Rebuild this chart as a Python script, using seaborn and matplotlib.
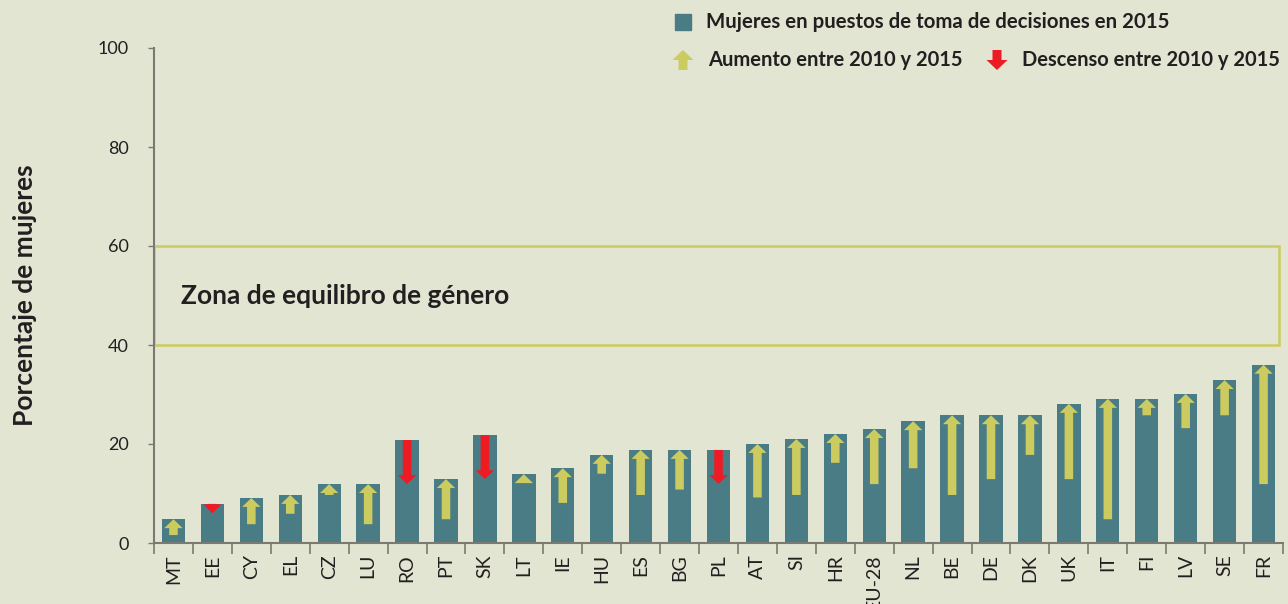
import matplotlib
matplotlib.use("Agg")
import matplotlib.pyplot as plt
import matplotlib.patches as mpatches
import seaborn as sns
import numpy as np
import pandas as pd

# ---- data ----
countries = ["MT", "EE", "CY", "EL", "CZ", "LU", "RO", "PT", "SK", "LT", "IE", "HU", "ES", "BG",
             "PL", "AT", "SI", "HR", "EU-28", "NL", "BE", "DE", "DK", "UK", "IT", "FI", "LV", "SE", "FR"]
women_2015 = [4.8, 7.9, 9.1, 9.7, 11.9, 11.9, 20.8, 12.9, 21.8, 13.9, 15.1, 17.8, 18.8, 18.8,
              18.8, 20.0, 21.0, 22.0, 23.0, 24.6, 25.8, 25.8, 25.8, 28.1, 29.1, 29.1, 30.1, 32.9, 36.0]
# other end of each change arrow
arrow_end = [1.6, 6.0, 3.8, 5.9, 9.7, 3.8, 11.9, 4.8, 12.9, 12.1, 8.1, 14.0, 9.7, 10.8,
             11.9, 9.2, 9.7, 16.2, 11.9, 15.1, 9.7, 12.9, 17.8, 12.9, 4.8, 25.8, 23.2, 25.8, 11.9]
change = ["up", "down", "up", "up", "up", "up", "down", "up", "down", "up", "up", "up", "up", "up",
          "down", "up", "up", "up", "up", "up", "up", "up", "up", "up", "up", "up", "up", "up", "up"]

y_ticks = [0, 20, 40, 60, 80, 100]
zone = (40, 60)

bar_label = "Mujeres en puestos de toma de decisiones en 2015"
up_label = "Aumento entre 2010 y 2015"
down_label = "Descenso entre 2010 y 2015"
zone_label = "Zona de equilibro de género"
y_label = "Porcentaje de mujeres"

# ---- style ----
BG = "#e1e5d2"
TEAL = "#4a7c85"
YEL = "#cccb60"
RED = "#ed1c24"
AX = "#7a7a72"
TXT = "#231f20"

sns.set_theme(style="white")
plt.rcParams["font.family"] = ["Lato", "DejaVu Sans"]

W, H = 1288, 604
fig = plt.figure(figsize=(12.88, 6.04), dpi=100, facecolor=BG)
ax = fig.add_axes([154/W, 1-543/H, (1283-154)/W, (543-48)/H])
ax.set_facecolor(BG)

n = len(countries)
df = pd.DataFrame({"country": countries, "value": women_2015})
sns.barplot(data=df, x="country", y="value", color=TEAL, saturation=1, width=0.6,
            linewidth=0, edgecolor=TEAL, ax=ax)

for i, (v, e, c) in enumerate(zip(women_2015, arrow_end, change)):
    if c == "up":
        ax.arrow(i, e, 0, v - e, width=0.22, head_width=0.47, head_length=1.8,
                 length_includes_head=True, color=YEL, lw=0, zorder=3)
    else:
        ax.arrow(i, v, 0, e - v, width=0.22, head_width=0.47, head_length=1.8,
                 length_includes_head=True, color=RED, lw=0, zorder=3)

ax.add_patch(mpatches.Rectangle((-0.5, zone[0]), n - 0.1, zone[1]-zone[0], fill=False,
                                edgecolor=YEL, lw=1.8, zorder=1, clip_on=False))
ax.text(0.2, 50, zone_label, fontsize=19, fontweight="bold", color=TXT, va="center", ha="left")

ax.set_xlim(-0.5, n - 0.5)
ax.set_ylim(0, 100)
ax.set_yticks(y_ticks)
ax.set_xlabel("")
ax.set_ylabel("")
ax.set_xticks(range(n))
ax.set_xticklabels(countries, rotation=90, fontsize=14, color=TXT)
ax.set_xticks(np.arange(-0.5, n, 1.0), minor=True)
ax.tick_params(axis="x", which="major", length=0, pad=8)
ax.tick_params(axis="x", which="minor", length=8, width=1.2, color=AX, direction="out")
ax.tick_params(axis="y", length=4, width=1, color=AX, direction="out", labelsize=13,
               labelcolor=TXT, pad=14)
ax.xaxis.set_ticks_position("bottom")
ax.yaxis.set_ticks_position("left")
for s in ["top", "right"]:
    ax.spines[s].set_visible(False)
for s in ["left", "bottom"]:
    ax.spines[s].set_color(AX)
    ax.spines[s].set_linewidth(1.5)

fig.text(25/W, 1-295/H, y_label, rotation=90, fontsize=19, fontweight="bold",
         color=TXT, va="center", ha="center")

# ---- legend (figure coordinates) ----
fig.patches.append(mpatches.Rectangle((675/W, 1-30/H), 16/W, 16/H, color=TEAL,
                                      transform=fig.transFigure, figure=fig))
fig.text(706/W, 1-22/H, bar_label, fontsize=14.7, fontweight="bold", color=TXT, va="center")


def leg_arrow(xc, color, up=True):
    if up:
        y0, dy = 1-70/H, 20/H
    else:
        y0, dy = 1-50/H, -20/H
    a = mpatches.FancyArrow(xc/W, y0, 0, dy, width=9/W, head_width=21/W, head_length=10/H,
                            length_includes_head=True, color=color, lw=0,
                            transform=fig.transFigure, figure=fig)
    fig.patches.append(a)


leg_arrow(683, YEL, True)
fig.text(708/W, 1-60/H, up_label, fontsize=14.5, fontweight="bold", color=TXT, va="center")
leg_arrow(997, RED, False)
fig.text(1022/W, 1-60/H, down_label, fontsize=14.5, fontweight="bold", color=TXT, va="center")

fig.savefig("out.png", dpi=100, facecolor=BG)
